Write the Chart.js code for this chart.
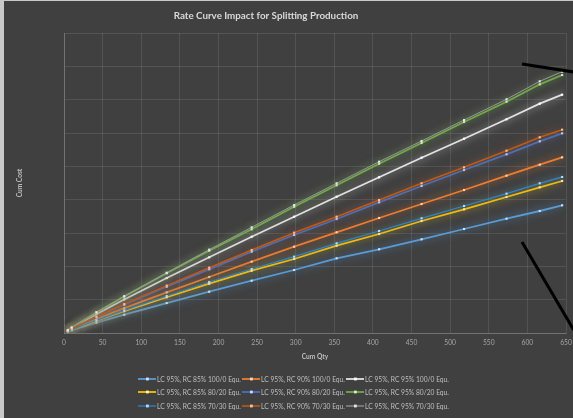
<!DOCTYPE html>
<html>
<head>
<meta charset="utf-8">
<title>Rate Curve Impact for Splitting Production</title>
<script src="https://cdn.jsdelivr.net/npm/chart.js@4.4.1/dist/chart.umd.min.js"></script>
<style>
  html, body { margin: 0; padding: 0; background: #404040; width: 573px; height: 418px; overflow: hidden; }
  #frame { position: absolute; left: 0; top: 0; width: 569px; height: 417px;
           border-left: 4px solid #c9c9c9; border-top: 1px solid #c9c9c9; }
  #chart { display: block; }
  #legend { position: absolute; left: 138px; top: 372px; display: grid;
            grid-template-columns: 104px 104px 104px; grid-auto-rows: 13.5px;
            font: 6.7px Lato, "Liberation Sans", sans-serif; color: #bfbfbf; }
  #legend .item { display: flex; align-items: center; white-space: nowrap; }
  #legend .item canvas { margin-right: 1px; }
</style>
</head>
<body>
<div id="frame"><canvas id="chart" width="569" height="417"></canvas></div>
<div id="legend"></div>
<script>
// Cumulative quantity at each plotted point
const QTY = [5, 10, 42, 78, 133, 188, 243, 298, 353, 408, 463, 518, 573, 616, 645];

// Cumulative cost per scenario (LC 95% throughout)
const RC85_100_0 = [45, 82, 309, 549, 899, 1239, 1569, 1890, 2241, 2511, 2811, 3120, 3429, 3660, 3831];
const RC90_100_0 = [60, 111, 419, 744, 1219, 1680, 2139, 2589, 3021, 3450, 3870, 4290, 4719, 5049, 5271];
const RC95_100_0 = [81, 150, 567, 1006, 1648, 2271, 2889, 3489, 4089, 4671, 5259, 5829, 6411, 6879, 7149];
const RC85_80_20 = [53, 98, 369, 655, 1073, 1479, 1869, 2220, 2619, 2970, 3360, 3711, 4080, 4371, 4560];
const RC90_80_20 = [68, 126, 477, 846, 1387, 1911, 2439, 2940, 3420, 3921, 4410, 4890, 5361, 5751, 5991];
const RC95_80_20 = [88, 163, 616, 1093, 1792, 2469, 3111, 3789, 4431, 5079, 5700, 6330, 6939, 7461, 7740];
const RC85_70_30 = [54, 101, 382, 677, 1110, 1530, 1920, 2289, 2691, 3060, 3441, 3810, 4179, 4491, 4680];
const RC90_70_30 = [70, 129, 489, 867, 1422, 1959, 2490, 3009, 3489, 3990, 4491, 4971, 5469, 5871, 6099];
const RC95_70_30 = [90, 165, 622, 1103, 1807, 2500, 3171, 3840, 4491, 5139, 5760, 6390, 7011, 7551, 7839];

const SERIES_NAMES = [
  'LC 95%, RC 85% 100/0 Equ.', 'LC 95%, RC 90% 100/0 Equ.', 'LC 95%, RC 95% 100/0 Equ.',
  'LC 95%, RC 85% 80/20 Equ.', 'LC 95%, RC 90% 80/20 Equ.', 'LC 95%, RC 95% 80/20 Equ.',
  'LC 95%, RC 85% 70/30 Equ.', 'LC 95%, RC 90% 70/30 Equ.', 'LC 95%, RC 95% 70/30 Equ.'
];
const SERIES_VALUES = [RC85_100_0, RC90_100_0, RC95_100_0, RC85_80_20, RC90_80_20, RC95_80_20,
                       RC85_70_30, RC90_70_30, RC95_70_30];

// Hand-drawn callout strokes, in axis units
const CALLOUT_UPPER = [{ x: 593, y: 8070 }, { x: 660, y: 7830 }];
const CALLOUT_LOWER = [{ x: 593, y: 2730 }, { x: 660, y: 90 }];

const X_MAX = 650, X_STEP = 50, Y_MAX = 9000, Y_STEP = 1000;
const TITLE = 'Rate Curve Impact for Splitting Production';
const X_TITLE = 'Cum Qty';
const Y_TITLE = 'Cum Cost';

const STYLES = [
  { line: '#5B9BD5', dot: '#cfe3f5', width: 1.8 },
  { line: '#ED7D31', dot: '#fbd4b8', width: 1.8 },
  { line: '#E2E2E2', dot: '#ffffff', width: 1.8 },
  { line: '#FFC000', dot: '#fff0b0', width: 1.8 },
  { line: '#4472C4', dot: '#c9d6f0', width: 1.8 },
  { line: '#70AD47', dot: '#d4ecc4', width: 1.8 },
  { line: '#2E86D0', dot: '#b9daf5', width: 1.3 },
  { line: '#C55A11', dot: '#f3c0a0', width: 1.5 },
  { line: '#9A9A9A', dot: '#e6e6e6', width: 1.0 }
];

function hexToRgba(hex, a) {
  const n = parseInt(hex.slice(1), 16);
  return `rgba(${(n >> 16) & 255},${(n >> 8) & 255},${n & 255},${a})`;
}

const datasets = SERIES_VALUES.map((vals, i) => ({
  label: SERIES_NAMES[i],
  data: QTY.map((q, k) => ({ x: q, y: vals[k] })),
  borderColor: STYLES[i].line,
  borderWidth: STYLES[i].width,
  pointStyle: 'rect',
  pointRadius: 1.5,
  pointBackgroundColor: STYLES[i].dot,
  pointBorderWidth: 0,
  tension: 0,
  glowColor: hexToRgba(STYLES[i].line, 0.8),
  order: SERIES_VALUES.length - i + 1
}));

[CALLOUT_UPPER, CALLOUT_LOWER].forEach(pts => datasets.push({
  label: '',
  data: pts,
  borderColor: '#000000',
  borderWidth: 3,
  pointRadius: 0,
  clip: false,
  order: 0
}));

// Soft halo behind each series line
const glowPlugin = {
  id: 'glow',
  beforeDatasetDraw(chart, args) {
    const ds = chart.data.datasets[args.index];
    chart.ctx.save();
    if (ds.glowColor) {
      chart.ctx.shadowColor = ds.glowColor;
      chart.ctx.shadowBlur = 9;
    }
  },
  afterDatasetDraw(chart) { chart.ctx.restore(); }
};

// Chart heading
const headingPlugin = {
  id: 'heading',
  afterDraw(chart) {
    const ctx = chart.ctx;
    ctx.save();
    ctx.font = 'bold 9.8px Lato, "Liberation Sans", sans-serif';
    ctx.fillStyle = '#d9d9d9';
    ctx.textAlign = 'center';
    ctx.textBaseline = 'middle';
    ctx.fillText(TITLE, 262, 15);
    ctx.restore();
  }
};

const gridColor = 'rgba(255,255,255,0.10)';
const tickFont = { family: 'Lato, "Liberation Sans", sans-serif', size: 6.7 };

const chart = new Chart(document.getElementById('chart'), {
  type: 'line',
  data: { datasets },
  plugins: [glowPlugin, headingPlugin],
  options: {
    responsive: false,
    animation: false,
    devicePixelRatio: 1,
    layout: { padding: { top: 32, right: 7, bottom: 53, left: 0 } },
    plugins: { legend: { display: false }, title: { display: false }, tooltip: { enabled: false } },
    scales: {
      x: {
        type: 'linear', min: 0, max: X_MAX,
        ticks: { stepSize: X_STEP, color: '#a6a6a6', font: tickFont, padding: 6, maxRotation: 0 },
        grid: { color: gridColor, drawTicks: false },
        border: { color: 'rgba(255,255,255,0.18)' },
        title: { display: true, text: X_TITLE, color: '#bfbfbf',
                 font: { family: tickFont.family, size: 6.6, weight: 'bold' }, padding: { top: 0, bottom: 4 } },
        afterFit(s) { s.height = 32; s.paddingLeft = 0; s.paddingRight = 0; }
      },
      y: {
        type: 'linear', min: 0, max: Y_MAX,
        ticks: { stepSize: Y_STEP, display: false },
        grid: { color: gridColor, drawTicks: false },
        border: { color: 'rgba(255,255,255,0.18)' },
        title: { display: true, text: Y_TITLE, color: '#bfbfbf',
                 font: { family: tickFont.family, size: 6.6, weight: 'bold' }, padding: { top: 12, bottom: 0 } },
        afterFit(s) { s.width = 60; }
      }
    }
  }
});

// Legend laid out as a 3-column grid
const legendEl = document.getElementById('legend');
SERIES_NAMES.forEach((name, i) => {
  const item = document.createElement('div');
  item.className = 'item';
  const sw = document.createElement('canvas');
  sw.width = 18; sw.height = 6;
  const c = sw.getContext('2d');
  c.strokeStyle = STYLES[i].line;
  c.lineWidth = Math.max(1.2, STYLES[i].width);
  c.beginPath(); c.moveTo(0, 3); c.lineTo(18, 3); c.stroke();
  c.fillStyle = STYLES[i].dot;
  c.fillRect(8, 1.6, 2.8, 2.8);
  const txt = document.createElement('span');
  txt.textContent = name;
  item.appendChild(sw);
  item.appendChild(txt);
  legendEl.appendChild(item);
});
</script>
</body>
</html>
